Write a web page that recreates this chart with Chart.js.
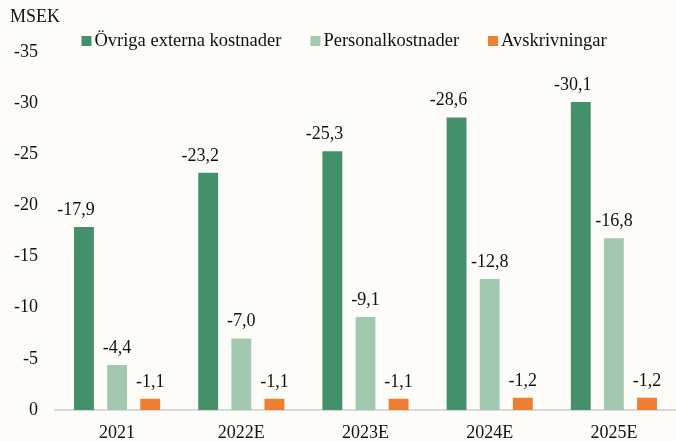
<!DOCTYPE html>
<html>
<head>
<meta charset="utf-8">
<script src="https://cdn.jsdelivr.net/npm/chart.js@4"></script>
<style>
  html, body { margin: 0; padding: 0; background: #fdfcf8; }
  #wrap { width: 676px; height: 441px; }
</style>
</head>
<body>
<div id="wrap"><canvas id="kostnader"></canvas></div>
<script>
// data (MSEK)
const years = ["2021", "2022E", "2023E", "2024E", "2025E"];
const ovrigaExterna = [-17.9, -23.2, -25.3, -28.6, -30.1];
const personal = [-4.4, -7.0, -9.1, -12.8, -16.8];
const avskrivningar = [-1.1, -1.1, -1.1, -1.2, -1.2];

const serif = "'Liberation Serif', 'Times New Roman', serif";
Chart.defaults.font.family = serif;
Chart.defaults.font.size = 18;
Chart.defaults.color = "#111";

function fmt(v) {
  return v.toFixed(1).replace(".", ",");
}

// labels above each bar
const barLabels = {
  id: "barLabels",
  afterDatasetsDraw(chart) {
    let ctx = chart.ctx;
    ctx.save();
    ctx.font = "18px " + serif;
    ctx.fillStyle = "#111";
    ctx.textAlign = "center";
    ctx.textBaseline = "alphabetic";
    chart.data.datasets.forEach((ds, i) => {
      let meta = chart.getDatasetMeta(i);
      let shift = i === 0 ? -8 : 0;
      meta.data.forEach((bar, j) => {
        ctx.fillText(fmt(ds.data[j]), bar.x + shift, bar.y - 12);
      });
    });
    ctx.restore();
  }
};

// MSEK unit text + legend row, drawn by hand so spacing is tight like the original
const topLegend = {
  id: "topLegend",
  afterDraw(chart) {
    let ctx = chart.ctx;
    ctx.save();
    ctx.font = "18px " + serif;
    ctx.fillStyle = "#111";
    ctx.textBaseline = "middle";
    ctx.textAlign = "left";
    ctx.fillText("MSEK", 10, 17);

    ctx.font = "18.5px " + serif;
    let box = 10, gap = 3, between = 29;
    let items = chart.data.datasets.map((ds) => {
      return { text: ds.label, color: ds.backgroundColor, w: box + gap + ctx.measureText(ds.label).width };
    });
    let total = items.reduce((s, it) => s + it.w, 0) + between * (items.length - 1);
    let x = (chart.width - total) / 2 + 6;
    let y = 41;
    items.forEach((it) => {
      ctx.fillStyle = it.color;
      ctx.fillRect(x, y - box / 2, box, box);
      ctx.fillStyle = "#111";
      ctx.fillText(it.text, x + box + gap, y);
      x += it.w + between;
    });
    ctx.restore();
  }
};

new Chart(document.getElementById("kostnader"), {
  type: "bar",
  data: {
    labels: years,
    datasets: [
      { label: "Övriga externa kostnader", data: ovrigaExterna, backgroundColor: "#44906a" },
      { label: "Personalkostnader", data: personal, backgroundColor: "#a2c9b0" },
      { label: "Avskrivningar", data: avskrivningar, backgroundColor: "#ef7f30" }
    ]
  },
  options: {
    responsive: true,
    maintainAspectRatio: false,
    animation: false,
    layout: { padding: { left: 14, right: 0, top: 52, bottom: 0 } },
    datasets: {
      bar: { categoryPercentage: 0.8, barPercentage: 0.6 }
    },
    plugins: {
      title: { display: false },
      legend: { display: false },
      tooltip: { enabled: false }
    },
    scales: {
      x: {
        grid: { display: false, drawTicks: false },
        border: { display: true, color: "#d9d9d9", width: 2 },
        ticks: { padding: 12 },
        afterFit: (s) => { s.height = 31; }
      },
      y: {
        reverse: true,
        min: -35,
        max: 0,
        grid: { display: false, drawTicks: false },
        border: { display: false },
        ticks: {
          stepSize: 5,
          padding: 17,
          callback: (v) => String(v)
        },
        afterFit: (s) => { s.width = 41; }
      }
    }
  },
  plugins: [barLabels, topLegend]
});
</script>
</body>
</html>
